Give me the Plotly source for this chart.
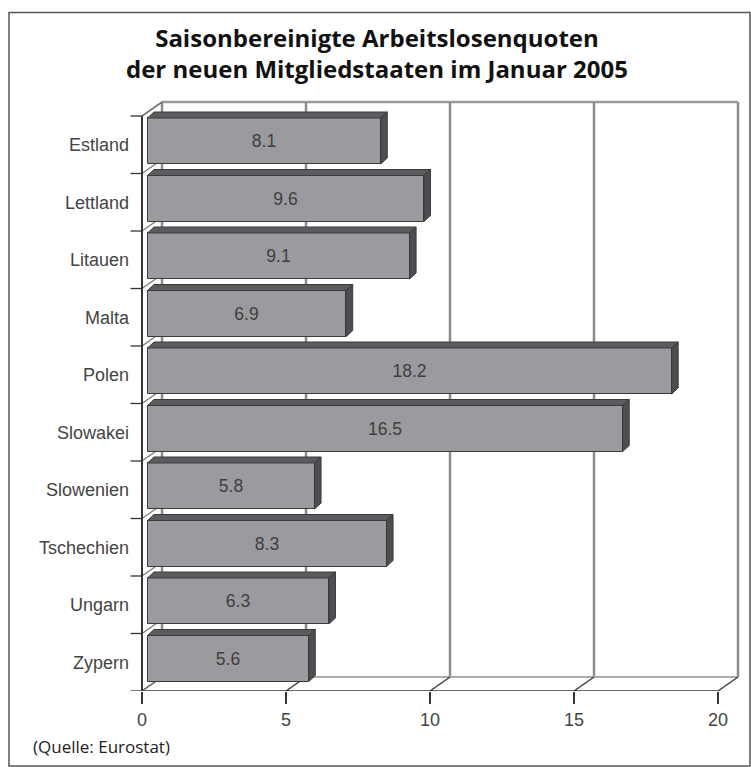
import plotly.graph_objects as go

# ---- data ----
categories = ["Estland", "Lettland", "Litauen", "Malta", "Polen",
              "Slowakei", "Slowenien", "Tschechien", "Ungarn", "Zypern"]
values = [8.1, 9.6, 9.1, 6.9, 18.2, 16.5, 5.8, 8.3, 6.3, 5.6]
x_ticks = [0, 5, 10, 15, 20]
title_lines = ["Saisonbereinigte Arbeitslosenquoten",
               "der neuen Mitgliedstaaten im Januar 2005"]
source_text = "(Quelle: Eurostat)"

# ---- geometry (pixel helpers) ----
W, H = 751, 767
PX0, SX = 142.0, 28.8          # pixel of x=0, px per unit
BAND_TOP, BAND = 116.0, 57.5    # category band geometry
L, R, T, B = 130, 745, 98, 691  # plot area in px

def ux(px):  # pixel offset -> x units
    return px / SX

def uy(px):  # pixel offset -> category units
    return px / BAND

xr = [(L - PX0) / SX, (R - PX0) / SX]
yr = [(B - BAND_TOP) / BAND - 0.5, (T - BAND_TOP) / BAND - 0.5]

DX, DY = ux(20), uy(-14)        # wall depth
top_u, floor_u = -0.5, len(categories) - 0.5
xmax = x_ticks[-1]

GRID = "#8c8c8c"
DARK = "#333333"

shapes = []
def line(x0, y0, x1, y1, color=GRID, width=2.5, layer="below"):
    shapes.append(dict(type="line", xref="x", yref="y", x0=x0, y0=y0, x1=x1, y1=y1,
                       line=dict(color=color, width=width), layer=layer))

# back wall top edge + gridlines
line(DX, top_u + DY, xmax + DX, top_u + DY, color="#9a9a9a", width=2.5)
for v in x_ticks:
    line(v + DX, top_u + DY, v + DX, floor_u + DY)
# floor
line(DX, floor_u + DY, xmax + DX, floor_u + DY, color="#aaaaaa", width=2)
for v in x_ticks:
    line(v, floor_u, v + DX, floor_u + DY, color=DARK, width=1.3)
line(0, floor_u, xmax, floor_u, color=DARK, width=1.5)
# left wall
line(0, top_u, DX, top_u + DY, color=DARK, width=1.3)
for i in range(len(categories) + 1):
    u = i - 0.5
    line(0, u, DX, u + DY, color="#777777", width=1.2)
    line(ux(L - PX0 + 0.5), u, 0, u, color=DARK, width=1.3)
line(0, top_u, 0, floor_u, color=DARK, width=2)

# ---- bars ----
b0 = ux(5.5)
ddx, ddy = ux(6.5), uy(-6)
c_shift = uy(-3.75)
half = 0.4
ys = [i + c_shift for i in range(len(categories))]

fig = go.Figure()
fig.add_trace(go.Bar(
    orientation="h", y=ys, x=values, base=b0, width=2 * half,
    marker=dict(color="#9b9b9f", line=dict(color="#3a3a3a", width=1)),
    text=[f"{v:.1f}" for v in values], textposition="inside",
    insidetextanchor="middle",
    textfont=dict(family="Liberation Sans", size=17.5, color="#3e3e3e"),
    hoverinfo="skip", showlegend=False,
))

for v, yc in zip(values, ys):
    yt, yb = yc - half, yc + half
    x1 = b0 + v
    # top face
    fig.add_trace(go.Scatter(
        x=[b0, x1, x1 + ddx, b0 + ddx, b0], y=[yt, yt, yt + ddy, yt + ddy, yt],
        mode="lines", fill="toself", fillcolor="#5c5c60",
        line=dict(color="#3a3a3a", width=1), hoverinfo="skip", showlegend=False))
    # side face
    fig.add_trace(go.Scatter(
        x=[x1, x1 + ddx, x1 + ddx, x1, x1], y=[yt, yt + ddy, yb + ddy, yb, yt],
        mode="lines", fill="toself", fillcolor="#4e4e52",
        line=dict(color="#3a3a3a", width=1), hoverinfo="skip", showlegend=False))

# ---- frame & annotations ----
pw, ph = R - L, B - T
def paper_x(px):
    return (px - L) / pw
def paper_y(py):
    return (B - py) / ph

shapes.append(dict(type="rect", xref="paper", yref="paper",
                   x0=paper_x(9), x1=paper_x(750), y0=paper_y(766), y1=paper_y(12.5),
                   line=dict(color="#555555", width=1.5), layer="below"))

TS = 24
annotations = [
    dict(text="<b>" + "<br>".join(title_lines) + "</b>", xref="paper", yref="paper",
         x=paper_x(377), y=paper_y(53), xanchor="center", yanchor="middle",
         showarrow=False, font=dict(family="Open Sans", size=TS, color="#111111")),
    dict(text=source_text, xref="paper", yref="paper",
         x=paper_x(31), y=paper_y(747), xanchor="left", yanchor="middle",
         showarrow=False, font=dict(family="Open Sans", size=17, color="#222222")),
]

fig.update_layout(
    width=W, height=H,
    margin=dict(l=L, r=W - R, t=T, b=H - B, pad=0),
    paper_bgcolor="white", plot_bgcolor="white",
    shapes=shapes,
    xaxis=dict(range=xr, tickvals=x_ticks, ticks="outside", ticklen=12,
               tickwidth=1.5, tickcolor=DARK, showgrid=False, zeroline=False,
               showline=False, ticklabelstandoff=0,
               tickfont=dict(family="Liberation Sans", size=18, color="#444444")),
    yaxis=dict(range=yr, tickvals=list(range(len(categories))), ticktext=categories,
               ticks="", showgrid=False, zeroline=False, showline=False,
               tickfont=dict(family="Liberation Sans", size=18, color="#444444")),
    annotations=annotations,
    bargap=0,
)

fig.write_html("out.html")
